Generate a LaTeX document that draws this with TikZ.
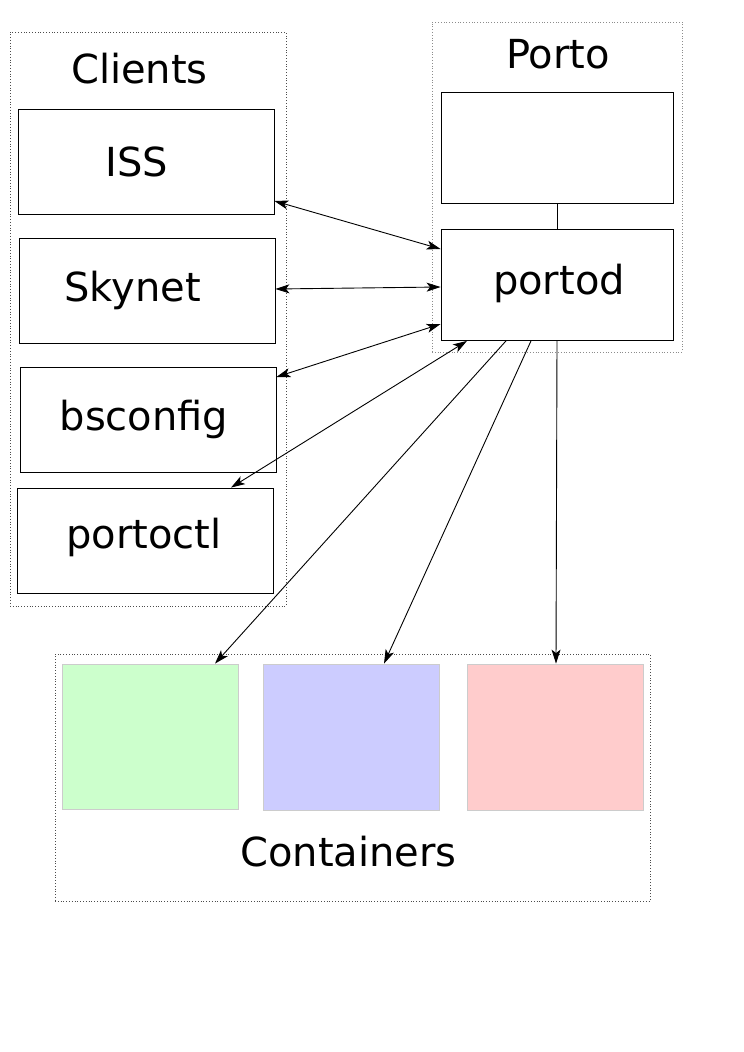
\documentclass[tikz,border=0pt]{standalone}
\usepackage{fontspec}
\setmainfont{DejaVu Sans}
\usetikzlibrary{arrows.meta}
\definecolor{cgreen}{HTML}{CCFFCC}
\definecolor{cblue}{HTML}{CCCCFF}
\definecolor{cred}{HTML}{FFCCCC}
\definecolor{edgegray}{HTML}{CCCCCC}
\tikzset{
  box/.style={draw=black, line width=0.8pt, inner sep=0pt, minimum width=256pt, minimum height=105pt},
  pbox/.style={draw=black, line width=0.8pt, inner sep=0pt, minimum width=232pt, minimum height=111pt},
  group/.style={draw=black!70, dotted, line width=0.8pt, inner sep=0pt},
  cont/.style={draw=edgegray, line width=0.8pt, inner sep=0pt, minimum width=176pt, minimum height=146pt},
  lbl/.style={anchor=base, inner sep=0pt, font=\fontsize{40}{48}\selectfont},
  conn/.style={line width=0.9pt, draw=black},
  tip/.tip={Stealth[length=14pt, width=9pt, inset=3.5pt]},
}
\begin{document}
\begin{tikzpicture}[x=1pt, y=-1pt]
\useasboundingbox (0,0) rectangle (744,1052);
% groups
\node[group, minimum width=276pt, minimum height=574pt] (clients) at (148,319) {};
\node[group, draw=black!45, minimum width=250pt, minimum height=330pt] (porto) at (557,187) {};
\node[group, minimum width=595pt, minimum height=247pt] (containers) at (352.5,777.5) {};
% client boxes
\node[box] (iss) at (146,161.5) {};
\node[box] (skynet) at (147,290.5) {};
\node[box] (bsconfig) at (148,419.5) {};
\node[box] (portoctl) at (145,540.5) {};
% porto boxes
\node[pbox] (top) at (557,148) {};
\node[pbox] (portod) at (557,285) {};
% containers
\node[cont, fill=cgreen, minimum height=145pt] (green) at (150,736.5) {};
\node[cont, fill=cblue] (blue) at (351,737) {};
\node[cont, fill=cred] (red) at (555,737) {};
% labels
\node[lbl] (lclients) at (139.5,83) {Clients};
\node[lbl] (liss) at (137,176) {ISS};
\node[lbl] (lskynet) at (132.5,301.5) {Skynet};
\node[lbl] (lbsconfig) at (144,430) {bsconfig};
\node[lbl] (lportoctl) at (144,548) {portoctl};
\node[lbl] (lporto) at (558,68) {Porto};
\node[lbl] (lportod) at (559,294) {portod};
\node[lbl] (lcontainers) at (348.5,866) {Containers};
% connectors
\draw[conn] (top.south) -- (portod.north);
\draw[conn, tip-tip] ([yshift=-39.5pt]iss.east) -- ([yshift=36pt]portod.west);
\draw[conn, tip-tip] ([yshift=1.5pt]skynet.east) -- ([yshift=-2pt]portod.west);
\draw[conn, tip-tip] ([yshift=42.5pt]bsconfig.east) -- ([yshift=-39pt]portod.west);
\draw[conn, tip-tip] ([xshift=86pt]portoctl.north) -- ([xshift=-90pt]portod.south);
\draw[conn, -tip] ([xshift=-51pt]portod.south) -- ([xshift=65pt]green.north);
\draw[conn, -tip] ([xshift=-26pt]portod.south) -- ([xshift=33pt]blue.north);
\draw[conn, -tip] (portod.south) -- ([xshift=1pt]red.north);
\end{tikzpicture}
\end{document}
